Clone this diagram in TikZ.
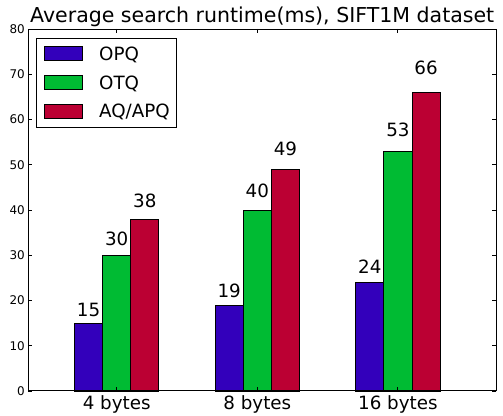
\documentclass[tikz,border=0pt]{standalone}
\usepackage{fontspec}
\setmainfont{DejaVu Sans}
\usepackage{tikz}
\usetikzlibrary{positioning}

\definecolor{opqblue}{RGB}{51,0,187}
\definecolor{otqgreen}{RGB}{0,187,51}
\definecolor{aqred}{RGB}{187,0,51}

\begin{document}
\begin{tikzpicture}[x=3.515cm, y=0.1131cm]
\tikzset{bar/.style =
        {
            draw=black,
            line width=0.6pt
        }
}

\tikzset{frame/.style =
        {
            draw=black,
            line width=0.7pt
        }
}

\tikzset{axtick/.style = { line width=0.6pt, black } }

\tikzset{ticklabel/.style =
        {
            font=\fontsize{8.5}{10}\selectfont,
            inner sep=0pt,
            anchor=east,
            xshift=-0.075cm
        }
}

\tikzset{barlabel/.style =
        {
            font=\fontsize{13}{15}\selectfont,
            inner sep=0pt,
            anchor=base,
            yshift=0.075cm
        }
}

\tikzset{grouplabel/.style =
        {
            font=\fontsize{13}{15}\selectfont,
            inner sep=0pt,
            anchor=base,
            yshift=-0.475cm
        }
}

\tikzset{legendkey/.style =
        {
            draw=black,
            line width=0.6pt,
            minimum width=0.96cm,
            minimum height=0.35cm,
            inner sep=0pt
        }
}

\tikzset{legendtext/.style =
        {
            font=\fontsize{13}{15}\selectfont,
            inner sep=0pt,
            anchor=base west
        }
}

		\useasboundingbox (-0.530,-5.525) rectangle (3.0475,86.41);
		\coordinate (axes-tl) at (-0.33,80);

		% bars and the values above them
		\foreach \grp / \opq / \otq / \aq in
			{0/15/30/38,
				1/19/40/49,
				2/24/53/66}
			{
				\draw [bar, fill=opqblue] (\grp,0) rectangle ({\grp+0.2},\opq);
				\draw [bar, fill=otqgreen] ({\grp+0.2},0) rectangle ({\grp+0.4},\otq);
				\draw [bar, fill=aqred] ({\grp+0.4},0) rectangle ({\grp+0.6},\aq);
				\node [barlabel] (val-opq-\grp) at ({\grp+0.1},{1.05*\opq}) {\opq};
				\node [barlabel] (val-otq-\grp) at ({\grp+0.3},{1.05*\otq}) {\otq};
				\node [barlabel] (val-aq-\grp) at ({\grp+0.5},{1.05*\aq}) {\aq};
			}

		\draw [frame] (-0.33,0) rectangle (3.0,80);

		\foreach \v in {0,10,...,80}
			{
				\draw [axtick] (-0.33,\v) -- ++(0.1cm,0);
				\draw [axtick] (3.0,\v) -- ++(-0.1cm,0);
				\node [ticklabel] (ytick-\v) at (-0.33,\v) {\v};
			}

		\foreach \grp / \txt in
			{0/4 bytes,
				1/8 bytes,
				2/16 bytes}
			{
				\draw [axtick] ({\grp+0.3},0) -- ++(0,0.1cm);
				\draw [axtick] ({\grp+0.3},80) -- ++(0,-0.1cm);
				\node [grouplabel] (group-\grp) at ({\grp+0.3},0) {\txt};
			}

		\node [anchor=base, inner sep=0pt, font=\fontsize{14.6}{17}\selectfont]
			(title) at (1.335,81.44) {Average search runtime(ms), SIFT1M dataset};

		% legend
		\draw [line width=0.6pt, fill=white]
			([shift={(0.2175cm,-0.2325cm)}]axes-tl) rectangle ([shift={(3.7175cm,-2.4575cm)}]axes-tl);
		\node [legendkey, fill=opqblue] (key-1) at ([shift={(0.8875cm,-0.6175cm)}]axes-tl) {};
		\node [legendkey, fill=otqgreen, below=0.345cm of key-1] (key-2) {};
		\node [legendkey, fill=aqred, below=0.345cm of key-2] (key-3) {};
		\foreach \i / \txt in
			{1/OPQ,
				2/OTQ,
				3/{AQ/APQ}}
			\node [legendtext] (entry-\i) at ([xshift=0.39cm, yshift=-0.17cm]key-\i.east) {\txt};

	\end{tikzpicture}
\end{document}
